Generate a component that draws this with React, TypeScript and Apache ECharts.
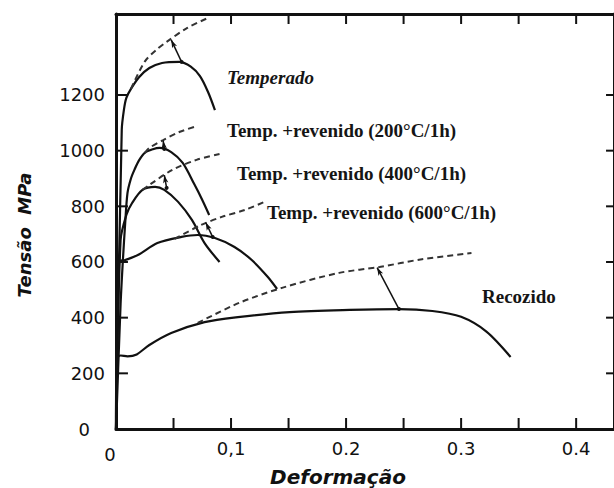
import React, { useEffect, useRef } from "react";
import * as echarts from "echarts";

// strain (Deformação), stress (MPa)
const temperadoEng: [number, number][] = [
  [0, 0], [0.005, 1075], [0.007, 1150], [0.009, 1190], [0.013, 1222], [0.02, 1264],
  [0.029, 1297], [0.04, 1315], [0.055, 1319], [0.065, 1302], [0.073, 1268],
  [0.08, 1211], [0.086, 1146],
];
const temperadoTrue: [number, number][] = [
  [0.013, 1222], [0.025, 1320], [0.035, 1362], [0.044, 1391], [0.062, 1441], [0.08, 1477],
];
const rev200Eng: [number, number][] = [
  [0, 0], [0.004, 450], [0.006, 607], [0.008, 740], [0.01, 848], [0.013, 900],
  [0.016, 931], [0.02, 965], [0.025, 992], [0.032, 1005], [0.038, 1010], [0.048, 995],
  [0.058, 956], [0.068, 880], [0.075, 823], [0.081, 769],
];
const rev200True: [number, number][] = [
  [0.025, 992], [0.029, 1010], [0.041, 1038], [0.055, 1067], [0.071, 1089],
];
const rev400Eng: [number, number][] = [
  [0, 0], [0.004, 679], [0.009, 769], [0.014, 812], [0.023, 859], [0.034, 870],
  [0.042, 859], [0.054, 816], [0.066, 751], [0.077, 668], [0.09, 600],
];
const rev400True: [number, number][] = [
  [0.023, 859], [0.029, 877], [0.049, 931], [0.07, 967], [0.09, 988],
];
const rev600Eng: [number, number][] = [
  [0, 0], [0.0026, 600], [0.008, 607], [0.019, 625], [0.036, 668], [0.057, 690],
  [0.071, 697], [0.086, 686], [0.103, 654], [0.118, 607], [0.132, 546], [0.14, 503],
];
const rev600True: [number, number][] = [
  [0.051, 683], [0.074, 733], [0.092, 762], [0.112, 787], [0.129, 816],
];
const recozidoEng: [number, number][] = [
  [0, 0], [0.0005, 252], [0.004, 264], [0.01, 261], [0.018, 268], [0.029, 302],
  [0.048, 345], [0.077, 384], [0.106, 402], [0.151, 420], [0.203, 428], [0.246, 431],
  [0.275, 424], [0.3, 403], [0.322, 350], [0.343, 259],
];
const recozidoTrue: [number, number][] = [
  [0.071, 381], [0.107, 453], [0.145, 508], [0.194, 561], [0.229, 582],
  [0.266, 610], [0.309, 632],
];
// arrows from engineering UTS point to true curve
const arrows: [number, number, number, number][] = [
  [0.057, 1319, 0.048, 1398],
  [0.042, 1006, 0.041, 1036],
  [0.044, 866, 0.042, 912],
  [0.084, 690, 0.078, 742],
  [0.246, 431, 0.227, 580],
];

const xTicks = [0.05, 0.1, 0.15, 0.2, 0.25, 0.3, 0.35, 0.4];
const yTicks = [200, 400, 600, 800, 1000, 1200];
const yLabels = [0, 200, 400, 600, 800, 1000, 1200];

const curveLabels = [
  { text: "Temperado", x: 227, y: 77, italic: true },
  { text: "Temp. +revenido (200°C/1h)", x: 227, y: 130, italic: false },
  { text: "Temp. +revenido (400°C/1h)", x: 237, y: 173, italic: false },
  { text: "Temp. +revenido (600°C/1h)", x: 267, y: 212, italic: false },
  { text: "Recozido", x: 482, y: 296, italic: false },
];

const X_MAX = 500 / 1155;
const Y_MAX = 1491;
const GRID_W = 500;
const GRID_H = 415;

export default function App() {
  const ref = useRef<HTMLDivElement>(null);
  useEffect(() => {
    if (!ref.current) return;
    const chart = echarts.init(ref.current, undefined, { renderer: "svg" });

    // inward frame ticks as tiny two-point line series (pixel length converted to data units)
    const dy = (px: number) => (px * Y_MAX) / GRID_H;
    const dx = (px: number) => (px * X_MAX) / GRID_W;
    const tickSeg: [number, number][][] = [];
    xTicks.forEach((v) => {
      tickSeg.push([[v, 0], [v, dy(11)]]);
      tickSeg.push([[v, Y_MAX], [v, Y_MAX - dy(10)]]);
    });
    yTicks.forEach((v) => {
      tickSeg.push([[0, v], [dx(12), v]]);
      tickSeg.push([[X_MAX, v], [X_MAX - dx(8), v]]);
    });
    const tickSeries = tickSeg.map((seg, i) => ({
      name: "tick" + i,
      type: "line",
      data: seg,
      showSymbol: false,
      silent: true,
      clip: false,
      z: 5,
      lineStyle: { color: "#111", width: 2 },
    }));

    const solid = (name: string, data: [number, number][]) => ({
      name,
      type: "line",
      data,
      showSymbol: false,
      smooth: 0.3,
      lineStyle: { color: "#111", width: 2.2 },
      silent: true,
    });
    const dashed = (name: string, data: [number, number][], arrow?: number[]) => ({
      name,
      type: "line",
      data,
      showSymbol: false,
      smooth: 0.3,
      lineStyle: { color: "#333", width: 2, type: [6, 4] },
      silent: true,
      markLine: arrow
        ? {
            silent: true,
            symbol: ["circle", "arrow"],
            symbolSize: [4, 8],
            label: { show: false },
            lineStyle: { color: "#111", width: 1.5, type: "solid" },
            data: [[{ coord: [arrow[0], arrow[1]] }, { coord: [arrow[2], arrow[3]] }]],
          }
        : undefined,
    });

    const axisFont = { fontFamily: "DejaVu Sans", fontSize: 18, color: "#111" };
    const frameLine = () => ({ show: true, onZero: false, lineStyle: { color: "#111", width: 3 } });
    chart.setOption({
      animation: false,
      backgroundColor: "#fff",
      grid: { left: 116, top: 14, width: GRID_W, height: GRID_H, containLabel: false },
      xAxis: [
        {
          type: "value",
          position: "bottom",
          min: 0,
          max: X_MAX,
          interval: 0.05,
          axisLine: frameLine(),
          axisTick: { show: false },
          axisLabel: {
            ...axisFont,
            margin: 10,
            showMaxLabel: false,
            formatter: (v: number) => {
              const k = Math.round(v * 20);
              if (k % 2 === 1) return "";
              if (k === 0) return "{z|0}";
              if (k === 2) return "0,1";
              return (k / 20).toFixed(1);
            },
            rich: { z: { ...axisFont, padding: [6, 12, 0, 0] } },
          },
          splitLine: { show: false },
        },
        {
          type: "value",
          position: "top",
          min: 0,
          max: X_MAX,
          axisLine: frameLine(),
          axisTick: { show: false },
          axisLabel: { show: false },
          splitLine: { show: false },
        },
      ],
      yAxis: [
        {
          type: "value",
          position: "left",
          min: 0,
          max: Y_MAX,
          axisLine: frameLine(),
          axisTick: { show: false },
          axisLabel: {
            ...axisFont,
            margin: 11,
            customValues: yLabels,
            formatter: (v: number) => (v === 0 ? "{z|0}" : String(v)),
            rich: { z: { ...axisFont, padding: [0, 15, 0, 0] } },
          },
          splitLine: { show: false },
        },
        {
          type: "value",
          position: "right",
          min: 0,
          max: Y_MAX,
          axisLine: frameLine(),
          axisTick: { show: false },
          axisLabel: { show: false },
          splitLine: { show: false },
        },
      ],
      series: [
        ...tickSeries,
        solid("Temperado", temperadoEng),
        dashed("Temperado (real)", temperadoTrue, arrows[0]),
        solid("Temp. +revenido (200°C/1h)", rev200Eng),
        dashed("200 (real)", rev200True, arrows[1]),
        solid("Temp. +revenido (400°C/1h)", rev400Eng),
        dashed("400 (real)", rev400True, arrows[2]),
        solid("Temp. +revenido (600°C/1h)", rev600Eng),
        dashed("600 (real)", rev600True, arrows[3]),
        solid("Recozido", recozidoEng),
        dashed("Recozido (real)", recozidoTrue, arrows[4]),
      ],
      graphic: [
        ...curveLabels.map((l) => ({
          type: "text",
          x: l.x,
          y: l.y,
          silent: true,
          style: {
            text: l.text,
            fontFamily: "Liberation Serif",
            fontWeight: "bold",
            fontStyle: l.italic ? "italic" : "normal",
            fontSize: 19,
            fill: "#151515",
            textAlign: "left",
            textVerticalAlign: "middle",
          },
        })),
        {
          type: "text",
          x: 338,
          y: 477,
          silent: true,
          style: {
            text: "Deformação",
            fontFamily: "DejaVu Sans",
            fontWeight: "bold",
            fontStyle: "italic",
            fontSize: 20,
            fill: "#111",
            textAlign: "center",
            textVerticalAlign: "middle",
          },
        },
        {
          type: "text",
          x: 24,
          y: 235,
          rotation: Math.PI / 2,
          silent: true,
          style: {
            text: "Tensão  MPa",
            fontFamily: "DejaVu Sans",
            fontWeight: "bold",
            fontStyle: "italic",
            fontSize: 18,
            fill: "#111",
            textAlign: "center",
            textVerticalAlign: "middle",
          },
        },
      ],
    });
    return () => chart.dispose();
  }, []);
  return (
    <div
      ref={ref}
      style={{ position: "fixed", left: 0, top: 0, width: 614, height: 488, background: "#fff" }}
    />
  );
}
